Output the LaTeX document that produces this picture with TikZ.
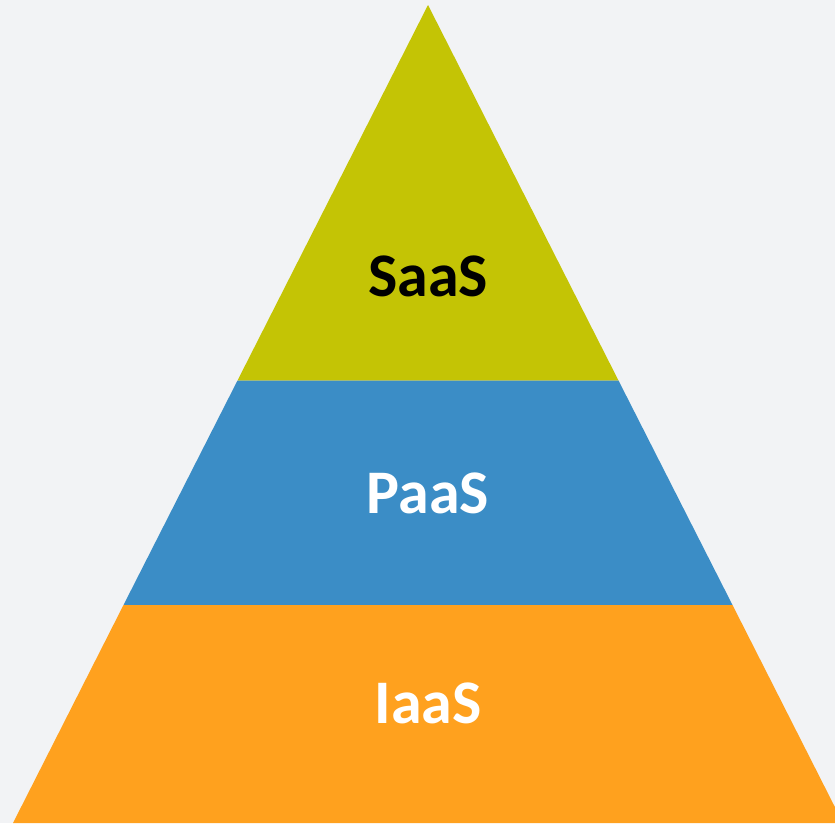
\documentclass[tikz,border=0pt]{standalone}
\usepackage{fontspec}
\setmainfont{Carlito}
\definecolor{bg}{HTML}{F2F3F5}
\definecolor{saascol}{HTML}{C4C405}
\definecolor{paascol}{HTML}{3B8DC6}
\definecolor{iaascol}{HTML}{FFA11E}
\begin{document}
\begin{tikzpicture}[x=1pt,y=-1pt,
  lbl/.style={font=\fontsize{62}{62}\selectfont\bfseries, anchor=base, inner sep=0pt}]
\fill[bg] (0,0) rectangle (835,823);
\useasboundingbox (0,0) rectangle (835,823);
\coordinate (apex) at (428,5);
\coordinate (l1) at (237.5,380.5);
\coordinate (r1) at (618.5,380.5);
\coordinate (l2) at (123.5,605);
\coordinate (r2) at (732.5,605);
\coordinate (l3) at (13,823);
\coordinate (r3) at (843,823);
\begin{scope}
\clip (0,0) rectangle (835,823);
\fill[saascol] (apex) -- (r1) -- (l1) -- cycle;
\fill[paascol] (l1) -- (r1) -- (r2) -- (l2) -- cycle;
\fill[iaascol] (l2) -- (r2) -- (r3) -- (l3) -- cycle;
\end{scope}
\node[lbl, text=black] (saas) at (428,296) {SaaS};
\node[lbl, text=white] (paas) at (428,513) {PaaS};
\node[lbl, text=white] (iaas) at (428,723) {IaaS};
\end{tikzpicture}
\end{document}
